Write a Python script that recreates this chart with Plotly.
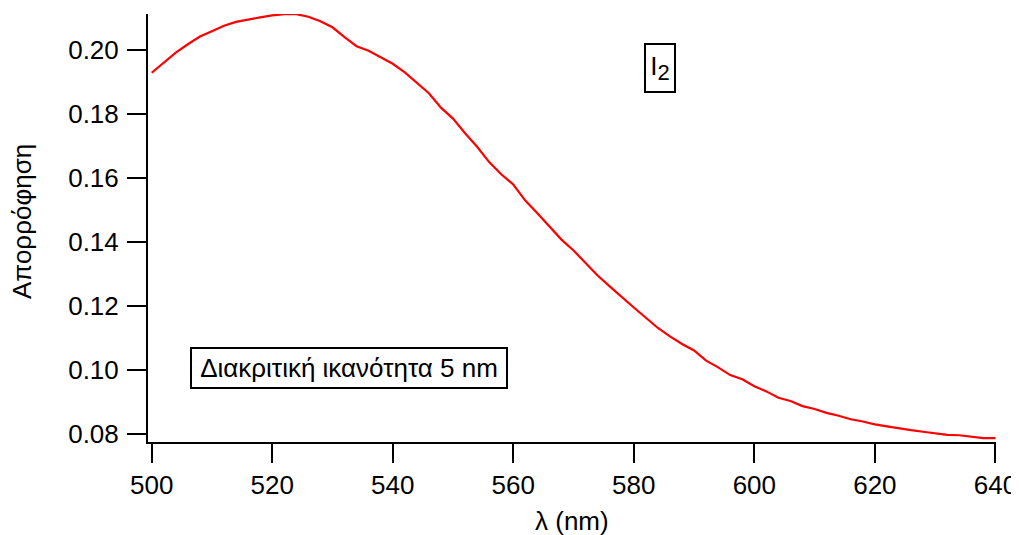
import plotly.graph_objects as go

wavelength_nm = [500, 502, 504, 506, 508, 510, 512, 514, 516, 518, 520, 522, 524, 526, 528,
                 530, 532, 534, 536, 538, 540, 542, 544, 546, 548, 550, 552, 554, 556, 558,
                 560, 562, 564, 566, 568, 570, 572, 574, 576, 578, 580, 582, 584, 586, 588,
                 590, 592, 594, 596, 598, 600, 602, 604, 606, 608, 610, 612, 614, 616, 618,
                 620, 622, 624, 626, 628, 630, 632, 634, 636, 638, 640]
absorbance = [0.1929, 0.1960, 0.1992, 0.2018, 0.2042, 0.2059, 0.2076, 0.2088, 0.2096, 0.2102,
              0.2108, 0.2112, 0.2112, 0.2104, 0.2090, 0.2071, 0.2040, 0.2012, 0.1998, 0.1978,
              0.1957, 0.1930, 0.1898, 0.1865, 0.1820, 0.1786, 0.1740, 0.1698, 0.1650, 0.1612,
              0.1580, 0.1530, 0.1490, 0.1450, 0.1408, 0.1374, 0.1336, 0.1296, 0.1262, 0.1228,
              0.1196, 0.1164, 0.1132, 0.1106, 0.1082, 0.1062, 0.1030, 0.1009, 0.0985, 0.0972,
              0.0950, 0.0934, 0.0914, 0.0904, 0.0888, 0.0879, 0.0867, 0.0858, 0.0847, 0.0840,
              0.0831, 0.0825, 0.0818, 0.0813, 0.0808, 0.0804, 0.0798, 0.0797, 0.0793, 0.0788,
              0.0788]

x_ticks = [500, 520, 540, 560, 580, 600, 620, 640]
y_ticks = [0.08, 0.10, 0.12, 0.14, 0.16, 0.18, 0.20]
y_tick_labels = ["0.08", "0.10", "0.12", "0.14", "0.16", "0.18", "0.20"]

x_title = "λ (nm)"
y_title = "Απορρόφηση"
label_species = "I<sub><span style='font-size:22px'>2</span></sub>"
label_resolution = "Διακριτική ικανότητα 5 nm"

FONT = "Liberation Sans, Arial, sans-serif"
FS = 26

fig = go.Figure()
fig.add_trace(go.Scatter(x=wavelength_nm, y=absorbance, mode="lines",
                         line=dict(color="#ff0000", width=2.2), showlegend=False,
                         hoverinfo="skip"))

# the page body has an 8px default margin; the figure is sized to fill the window
fig.update_layout(
    width=1011, height=527,
    margin=dict(l=140, r=23, t=6, b=93, pad=0),
    paper_bgcolor="white", plot_bgcolor="white",
    font=dict(family=FONT, size=FS, color="black"),
    xaxis=dict(range=[499.39, 640.1], tickvals=x_ticks, ticks="outside", ticklen=19,
               tickwidth=2, tickcolor="black", showline=True, linecolor="black", linewidth=2,
               showgrid=False, zeroline=False, automargin=False,
               tickfont=dict(family=FONT, size=FS)),
    yaxis=dict(range=[0.0776, 0.21125], tickvals=y_ticks, ticktext=y_tick_labels,
               ticks="outside", ticklen=19, tickwidth=2, tickcolor="black", showline=True,
               linecolor="black", linewidth=2, showgrid=False, zeroline=False,
               automargin=False, ticklabelstandoff=3, tickfont=dict(family=FONT, size=FS)),
    annotations=[
        dict(text=x_title, xref="paper", yref="paper", x=0.5, y=0, yanchor="middle",
             yshift=-79, showarrow=False, font=dict(family=FONT, size=FS)),
        dict(text=y_title, xref="paper", yref="paper", x=0, y=0.514, xanchor="center",
             yanchor="middle", xshift=-126, textangle=-90, showarrow=False,
             font=dict(family=FONT, size=FS)),
        dict(text=label_species, xref="x", yref="y", x=584.4, y=0.1944, showarrow=False,
             bordercolor="black", borderwidth=2, borderpad=0, width=28, height=46,
             bgcolor="white", font=dict(family=FONT, size=FS)),
        dict(text=label_resolution, xref="x", yref="y", x=532.8, y=0.1006, showarrow=False,
             bordercolor="black", borderwidth=2, borderpad=0, width=314, height=38,
             bgcolor="white", font=dict(family=FONT, size=FS)),
    ],
)

fig.write_html("out.html")
